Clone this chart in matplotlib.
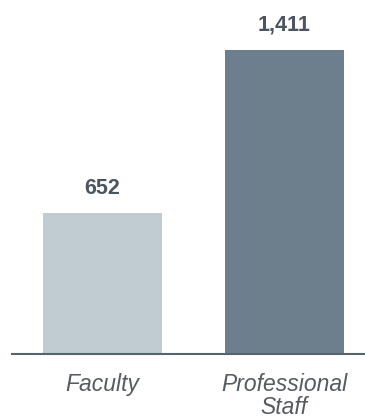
import matplotlib.pyplot as plt

# headcount by employee group
groups = ["Faculty", "Professional\nStaff"]
counts = [652, 1411]
bar_colors = ["#c0cbd2", "#6d7f8d"]

plt.rcParams["font.family"] = ["Liberation Sans", "DejaVu Sans"]

fig = plt.figure(figsize=(3.65, 4.18), dpi=100)
ax = fig.add_axes([0.033, 0.1538, 0.967, 0.8462])

x = list(range(len(groups)))
ax.bar(x, counts, width=0.656, color=bar_colors)

for xi, v in zip(x, counts):
    ax.annotate(f"{v:,}", (xi, v), xytext=(0, 17.5), textcoords="offset points",
                ha="center", va="center", fontsize=15.5, fontweight="bold",
                color="#4b5660")

ax.set_xlim(-0.499, 1.446)
ax.set_ylim(0, 1641)
ax.set_xticks(x)
ax.set_xticklabels(groups, fontsize=16.5, style="italic", color="#555b60",
                   linespacing=1.0)
ax.tick_params(axis="x", length=0, pad=14)
ax.set_yticks([])
for side in ["top", "right", "left"]:
    ax.spines[side].set_visible(False)
ax.spines["bottom"].set_color("#59636c")
ax.spines["bottom"].set_linewidth(1.5)

fig.savefig("out.png", dpi=100)
